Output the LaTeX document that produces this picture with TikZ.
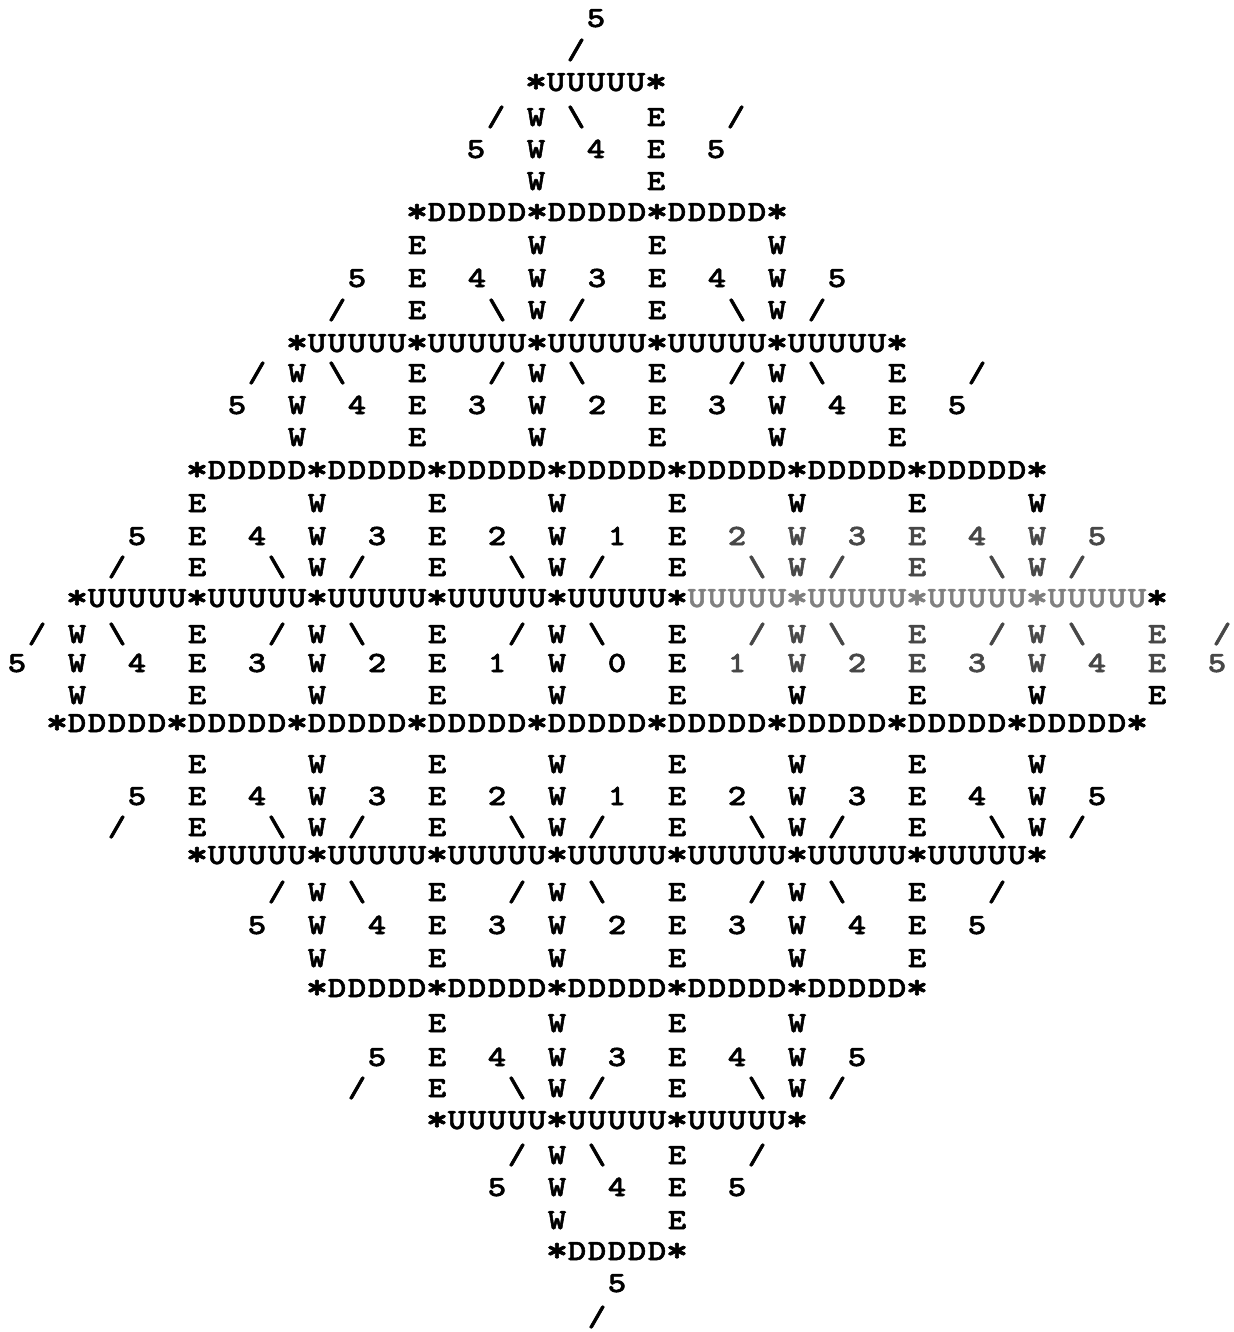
\documentclass[tikz,border=0pt]{standalone}
\usepackage{graphicx}
\usepackage{xcolor}
\font\ascf="[lmmonolt10-bold]:embolden=1.8;extend=1.2" at 14.7pt
\makeatletter
\newlength\cw \setlength\cw{10pt}
\def\ascol{black}
\def\ascD{\if\ascch.\else\if\ascch b\char92 \else\if\ascch*\raisebox{-0.7pt}{\scalebox{1.2}{*}}\else\ascch\fi\fi\fi}
\def\ascbox{\if\ascch|\gdef\ascol{black!50}\else\if\ascch+\gdef\ascol{black!72}\else\if\ascch=\gdef\ascol{black}\else\makebox[\cw]{\color{\ascol}\ascD}\fi\fi\fi}
\newcommand\asc[1]{\gdef\ascol{black}\@tfor\ascch:=#1\do{\ascbox}}
\makeatother
\tikzset{asc/.style={anchor=base west, inner sep=0pt, outer sep=0pt, font=\ascf}}
% name, start column, vertical centre (px), horizontal shift (px), text
\newcommand\AL[5]{\node[asc] (#1) at ({7+20*(#2)+(#4)},{#3+9}) {\asc{#5}};}
\begin{document}
\begin{tikzpicture}[x=0.5pt,y=-0.5pt]
\fill[white] (0,0) rectangle (1233,1332);
\useasboundingbox (0,0) rectangle (1233,1332);
\AL{l1}{30}{18}{-21}{5}
\AL{l2}{29}{50}{-21}{/}
\AL{l3}{27}{82}{-21}{*UUUUU*}
\AL{l4}{25}{117}{-21}{/.W.b...E.../}
\AL{l5}{24}{149}{-21}{5..W..4..E..5}
\AL{l6}{27}{181}{-21}{W.....E}
\AL{l7}{21}{212}{-20}{*DDDDD*DDDDD*DDDDD*}
\AL{l8}{21}{245}{-20}{E.....W.....E.....W}
\AL{l9}{18}{278}{-20}{5..E..4..W..3..E..4..W..5}
\AL{l10}{17}{310}{-20}{/...E...b.W./...E...b.W./}
\AL{l11}{15}{343}{-20}{*UUUUU*UUUUU*UUUUU*UUUUU*UUUUU*}
\AL{l12}{13}{373}{-20}{/.W.b...E.../.W.b...E.../.W.b...E.../}
\AL{l13}{12}{405}{-20}{5..W..4..E..3..W..2..E..3..W..4..E..5}
\AL{l14}{15}{437}{-20}{W.....E.....W.....E.....W.....E}
\AL{l15}{9}{470}{0}{*DDDDD*DDDDD*DDDDD*DDDDD*DDDDD*DDDDD*DDDDD*}
\AL{l16}{9}{503}{0}{E.....W.....E.....W.....E.....W.....E.....W}
\AL{l17}{6}{536}{0}{5..E..4..W..3..E..2..W..1..E..+2..W..3..E..4..W..5}
\AL{l18}{5}{567}{0}{/...E...b.W./...E...b.W./...E...+b.W./...E...b.W./}
\AL{l19}{3}{598}{0}{*UUUUU*UUUUU*UUUUU*UUUUU*UUUUU*|UUUUU*UUUUU*UUUUU*UUUUU=*}
\AL{l20}{1}{634}{0}{/.W.b...E.../.W.b...E.../.W.b...E...+/.W.b...E.../.W.b...E}
\AL{l20r}{61}{634}{-15}{+/}
\AL{l21}{0}{663}{0}{5..W..4..E..3..W..2..E..1..W..0..E..+1..W..2..E..3..W..4..E..5}
\AL{l22}{3}{695}{0}{W.....E.....W.....E.....W.....E.....W.....E.....W.....E}
\AL{l23}{3}{723}{-20}{*DDDDD*DDDDD*DDDDD*DDDDD*DDDDD*DDDDD*DDDDD*DDDDD*DDDDD*}
\AL{l24}{9}{764}{0}{E.....W.....E.....W.....E.....W.....E.....W}
\AL{l25}{6}{796}{0}{5..E..4..W..3..E..2..W..1..E..2..W..3..E..4..W..5}
\AL{l26}{5}{827}{0}{/...E...b.W./...E...b.W./...E...b.W./...E...b.W./}
\AL{l27}{9}{855}{0}{*UUUUU*UUUUU*UUUUU*UUUUU*UUUUU*UUUUU*UUUUU*}
\AL{l28}{13}{892}{0}{/.W.b...E.../.W.b...E.../.W.b...E.../}
\AL{l29}{12}{925}{0}{5..W..4..E..3..W..2..E..3..W..4..E..5}
\AL{l30}{15}{958}{0}{W.....E.....W.....E.....W.....E}
\AL{l31}{15}{988}{0}{*DDDDD*DDDDD*DDDDD*DDDDD*DDDDD*}
\AL{l32}{21}{1023}{0}{E.....W.....E.....W}
\AL{l33}{18}{1057}{0}{5..E..4..W..3..E..4..W..5}
\AL{l34}{17}{1088}{0}{/...E...b.W./...E...b.W./}
\AL{l35}{21}{1120}{0}{*UUUUU*UUUUU*UUUUU*}
\AL{l36}{25}{1155}{0}{/.W.b...E.../}
\AL{l37}{24}{1187}{0}{5..W..4..E..5}
\AL{l38}{27}{1220}{0}{W.....E}
\AL{l39}{27}{1251}{0}{*DDDDD*}
\AL{l40}{30}{1283}{0}{5}
\AL{l41}{29}{1317}{0}{/}
\end{tikzpicture}
\end{document}
